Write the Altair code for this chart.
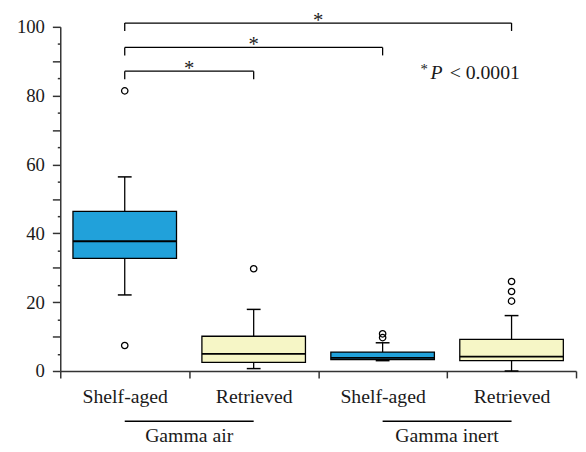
import altair as alt
import pandas as pd

# ---- data ----
keys = ["Shelf-aged|air", "Retrieved|air", "Shelf-aged|inert", "Retrieved|inert"]
kinds = ["Shelf-aged", "Retrieved", "Shelf-aged", "Retrieved"]
lower = [22.1, 0.7, 3.0, 0.0]
q1 = [32.7, 2.5, 3.3, 3.0]
median = [37.7, 5.0, 3.8, 4.2]
q3 = [46.4, 10.1, 5.5, 9.2]
upper = [56.4, 17.9, 8.2, 16.1]
outliers = [[81.4, 7.4], [29.7], [10.8, 9.7], [26.0, 23.1, 20.3]]

groups = ["Gamma air", "Gamma inert"]
group_first = [0, 2]
group_last = [1, 3]

bracket_from = [0, 0, 0]
bracket_to = [1, 2, 3]
bracket_y = [87.1, 94.0, 101.1]
bracket_label = ["*", "*", "*"]

p_star = "*"
p_letter = "P"
p_rest = "< 0.0001"

# ---- styling ----
FONT = "Liberation Serif"
BLUE = "#21a1da"
YELLOW = "#f6f6c6"
INK = "#1a1a1a"
W, H = 523, 349
BOX_W = 105
CAP_W = 14
DROP = 2.3
GROUP_LINE_Y = -14.6
GROUP_TEXT_Y = -20.6
P_Y = 84.8
P_STAR_Y = 86.3

box_df = pd.DataFrame({"key": keys, "kind": kinds, "lower": lower, "q1": q1,
                       "median": median, "q3": q3, "upper": upper})
out_df = pd.DataFrame([{"key": k, "kind": kd, "v": v}
                       for k, kd, vs in zip(keys, kinds, outliers) for v in vs])

yscale = alt.Scale(domain=[0, 100], nice=False, zero=False)
yaxis = alt.Axis(values=list(range(0, 101, 5)),
                 labelExpr="datum.value % 20 === 0 ? datum.label : ''",
                 tickSize={"condition": {"test": "datum.value % 10 === 0", "value": 8}, "value": 3},
                 labelFont=FONT, labelFontSize=19, labelColor=INK, labelPadding=8,
                 domainColor="#333333", domainWidth=1.5, tickColor="#333333", tickWidth=1.5,
                 grid=False, title=None)
xaxis = alt.Axis(labelExpr="split(datum.label, '|')[0]", tickBand="extent",
                 labelFont=FONT, labelFontSize=20, labelColor=INK, labelPadding=9, labelAngle=0,
                 domainColor="#333333", domainWidth=1.5, tickColor="#333333", tickWidth=1.5,
                 tickSize=7, grid=False, title=None)
xband = alt.X("key:N", scale=alt.Scale(domain=keys, paddingInner=0, paddingOuter=0),
              sort=keys, axis=xaxis)
color = alt.Color("kind:N", scale=alt.Scale(domain=["Shelf-aged", "Retrieved"], range=[BLUE, YELLOW]),
                  legend=None)

base = alt.Chart(box_df)
wh_up = base.mark_rule(color="black", strokeWidth=1.3).encode(
    x=xband, y=alt.Y("q3:Q", scale=yscale, axis=yaxis), y2="upper:Q")
wh_lo = base.mark_rule(color="black", strokeWidth=1.3).encode(
    x=xband, y=alt.Y("lower:Q", scale=yscale, axis=yaxis), y2="q1:Q")
box = base.mark_bar(width=BOX_W, stroke="black", strokeWidth=1.3).encode(
    x=xband, y=alt.Y("q1:Q", scale=yscale, axis=yaxis), y2="q3:Q", color=color)
med = base.mark_tick(size=BOX_W, thickness=1.8, color="black", opacity=1).encode(
    x=xband, y=alt.Y("median:Q", scale=yscale, axis=yaxis))
cap_up = base.mark_tick(size=CAP_W, thickness=1.5, color="black", opacity=1).encode(
    x=xband, y=alt.Y("upper:Q", scale=yscale, axis=yaxis))
cap_lo = base.mark_tick(size=CAP_W, thickness=1.5, color="black", opacity=1).encode(
    x=xband, y=alt.Y("lower:Q", scale=yscale, axis=yaxis))
pts = alt.Chart(out_df).mark_point(shape="circle", filled=False, size=42, color="black",
                                    strokeWidth=1.3, opacity=1).encode(
    x=xband, y=alt.Y("v:Q", scale=yscale, axis=yaxis))

layer_a = alt.layer(wh_up, wh_lo, box, med, cap_up, cap_lo, pts)

# ---- overlay layer on a continuous x (category i centred at i + 0.5) ----
xq_scale = alt.Scale(domain=[0, len(keys)], nice=False, zero=False)

br_df = pd.DataFrame({"x1": [f + 0.5 for f in bracket_from], "x2": [t + 0.5 for t in bracket_to],
                      "y": bracket_y, "label": bracket_label})
br_df["xm"] = (br_df["x1"] + br_df["x2"]) / 2
br_df["yd"] = br_df["y"] - DROP
ends = pd.concat([br_df[["x1", "y", "yd"]].rename(columns={"x1": "x"}),
                  br_df[["x2", "y", "yd"]].rename(columns={"x2": "x"})])

hline = alt.Chart(br_df).mark_rule(color="black", strokeWidth=1.3).encode(
    x=alt.X("x1:Q", scale=xq_scale, axis=None), x2="x2:Q",
    y=alt.Y("y:Q", scale=yscale, axis=yaxis))
vend = alt.Chart(ends).mark_rule(color="black", strokeWidth=1.3).encode(
    x=alt.X("x:Q", scale=xq_scale, axis=None),
    y=alt.Y("y:Q", scale=yscale, axis=yaxis), y2="yd:Q")
stars = alt.Chart(br_df).mark_text(font=FONT, fontSize=21, color=INK, baseline="alphabetic",
                                   align="center", dy=4).encode(
    x=alt.X("xm:Q", scale=xq_scale, axis=None),
    y=alt.Y("y:Q", scale=yscale, axis=yaxis), text="label:N")

grp_df = pd.DataFrame({"g": groups, "a": [i + 0.5 for i in group_first],
                       "b": [i + 0.5 for i in group_last]})
grp_df["m"] = (grp_df["a"] + grp_df["b"]) / 2
grp_df["ly"] = GROUP_LINE_Y
grp_df["ty"] = GROUP_TEXT_Y
gline = alt.Chart(grp_df).mark_rule(color="black", strokeWidth=1.3).encode(
    x=alt.X("a:Q", scale=xq_scale, axis=None), x2="b:Q",
    y=alt.Y("ly:Q", scale=yscale, axis=yaxis))
gtext = alt.Chart(grp_df).mark_text(font=FONT, fontSize=20, color=INK, baseline="alphabetic",
                                    align="center").encode(
    x=alt.X("m:Q", scale=xq_scale, axis=None),
    y=alt.Y("ty:Q", scale=yscale, axis=yaxis), text="g:N")

ann_df = pd.DataFrame({"t": [p_star, p_letter, p_rest], "x": [2.822, 2.872, 3.02],
                       "y": [P_STAR_Y, P_Y, P_Y]})
ann_star = alt.Chart(ann_df.iloc[[0]]).mark_text(font=FONT, fontSize=15, color=INK,
                                                 baseline="alphabetic", align="center").encode(
    x=alt.X("x:Q", scale=xq_scale, axis=None), y=alt.Y("y:Q", scale=yscale, axis=yaxis), text="t:N")
ann_p = alt.Chart(ann_df.iloc[[1]]).mark_text(font=FONT, fontSize=20, fontStyle="italic", color=INK,
                                              baseline="alphabetic", align="left").encode(
    x=alt.X("x:Q", scale=xq_scale, axis=None), y=alt.Y("y:Q", scale=yscale, axis=yaxis), text="t:N")
ann_rest = alt.Chart(ann_df.iloc[[2]]).mark_text(font=FONT, fontSize=20, color=INK,
                                                 baseline="alphabetic", align="left").encode(
    x=alt.X("x:Q", scale=xq_scale, axis=None), y=alt.Y("y:Q", scale=yscale, axis=yaxis), text="t:N")

layer_b = alt.layer(hline, vend, stars, gline, gtext, ann_star, ann_p, ann_rest)

chart = alt.layer(layer_a, layer_b).resolve_scale(x="independent").properties(
    width=W, height=H,
    padding={"left": 53, "top": 16, "right": 2, "bottom": 76},
    autosize=alt.AutoSizeParams(type="none"),
    background="white",
).configure_view(stroke=None)

chart.save("out.html", embed_options={"renderer": "svg", "actions": False})
